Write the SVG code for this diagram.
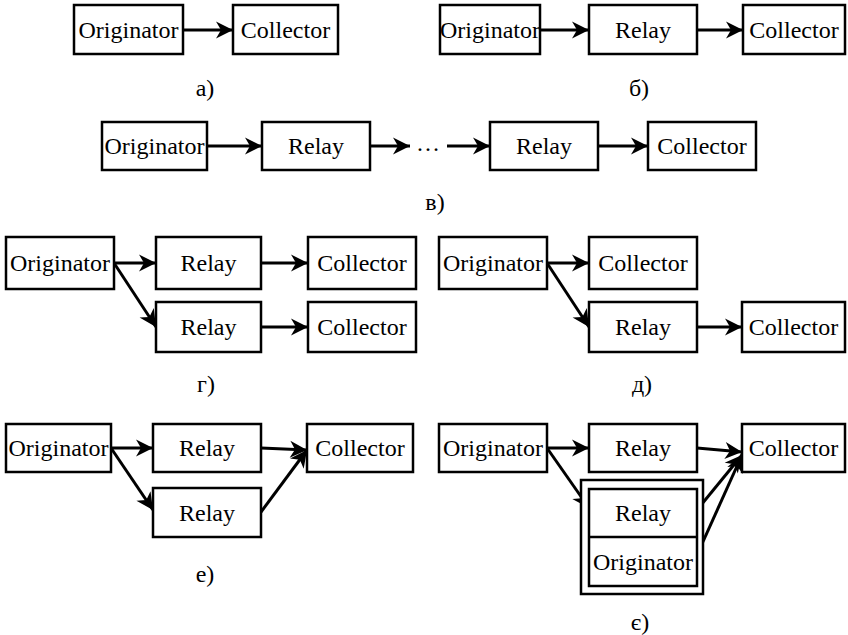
<svg xmlns="http://www.w3.org/2000/svg" width="848" height="635" viewBox="0 0 848 635">
<style>
.box{fill:#fff;stroke:#000;stroke-width:2.5}
.c{fill:none;stroke:#000;stroke-width:3;marker-end:url(#ah)}
.ln{fill:none;stroke:#000;stroke-width:2.5}
</style>
<defs>
<marker id="ah" markerUnits="userSpaceOnUse" markerWidth="20" markerHeight="20" viewBox="0 -10 20 20" refX="17" refY="0" orient="auto" overflow="visible">
<path d="M0,-8.5 L17,0 L0,8.5 L5,0 Z" fill="#000"/>
</marker>
</defs>
<rect width="848" height="635" fill="#fff"/>

<g id="connectors">
<line class="c" x1="183" y1="30" x2="233" y2="30"/>
<line class="c" x1="540" y1="30" x2="589" y2="30"/>
<line class="c" x1="697" y1="30" x2="743" y2="30"/>
<line class="c" x1="207" y1="146" x2="262" y2="146"/>
<line class="c" x1="370" y1="146" x2="410" y2="146"/>
<line class="c" x1="447" y1="146" x2="490" y2="146"/>
<line class="c" x1="598" y1="146" x2="648" y2="146"/>
<line class="c" x1="114" y1="263" x2="156" y2="263"/>
<line class="c" x1="261" y1="263" x2="308" y2="263"/>
<line class="c" x1="261" y1="327" x2="308" y2="327"/>
<line class="c" x1="114" y1="263" x2="156" y2="327"/>
<line class="c" x1="547" y1="263" x2="589" y2="263"/>
<line class="c" x1="547" y1="263" x2="589" y2="327"/>
<line class="c" x1="697" y1="327" x2="742" y2="327"/>
<line class="c" x1="111" y1="448" x2="153" y2="448"/>
<line class="c" x1="111" y1="448" x2="153" y2="510"/>
<line class="c" x1="261" y1="448" x2="307" y2="450"/>
<line class="c" x1="261" y1="512" x2="307" y2="450"/>
<line class="c" x1="547" y1="448" x2="589" y2="448"/>
<line class="c" x1="547" y1="448" x2="589" y2="508"/>
<line class="c" x1="697" y1="448" x2="742" y2="452"/>
<line class="c" x1="697" y1="510" x2="742" y2="455"/>
<line class="c" x1="697" y1="555" x2="742" y2="455"/>
</g>

<g id="a-originator"><rect class="box" x="74" y="5" width="109" height="49"/><text font-family="Liberation Serif" font-size="24" text-anchor="middle" x="128.5" y="38">Originator</text></g>
<g id="a-collector"><rect class="box" x="233" y="5" width="105" height="49"/><text font-family="Liberation Serif" font-size="24" text-anchor="middle" x="285.5" y="38">Collector</text></g>
<text font-family="Liberation Serif" font-size="24" text-anchor="middle" x="205" y="96">а)</text>

<g id="b-originator"><rect class="box" x="440" y="5" width="100" height="49"/><text font-family="Liberation Serif" font-size="24" text-anchor="middle" x="490" y="38">Originator</text></g>
<g id="b-relay"><rect class="box" x="589" y="5" width="108" height="49"/><text font-family="Liberation Serif" font-size="24" text-anchor="middle" x="643" y="38">Relay</text></g>
<g id="b-collector"><rect class="box" x="743" y="5" width="102" height="49"/><text font-family="Liberation Serif" font-size="24" text-anchor="middle" x="794" y="38">Collector</text></g>
<text font-family="Liberation Serif" font-size="24" text-anchor="middle" x="639" y="96">б)</text>

<g id="v-originator"><rect class="box" x="102" y="122" width="105" height="48"/><text font-family="Liberation Serif" font-size="24" text-anchor="middle" x="154.5" y="154">Originator</text></g>
<g id="v-relay1"><rect class="box" x="262" y="122" width="108" height="48"/><text font-family="Liberation Serif" font-size="24" text-anchor="middle" x="316" y="154">Relay</text></g>
<text font-family="Liberation Serif" font-size="24" text-anchor="middle" x="428" y="151">…</text>
<g id="v-relay2"><rect class="box" x="490" y="122" width="108" height="48"/><text font-family="Liberation Serif" font-size="24" text-anchor="middle" x="544" y="154">Relay</text></g>
<g id="v-collector"><rect class="box" x="648" y="122" width="108" height="48"/><text font-family="Liberation Serif" font-size="24" text-anchor="middle" x="702" y="154">Collector</text></g>
<text font-family="Liberation Serif" font-size="24" text-anchor="middle" x="435" y="210">в)</text>

<g id="g-originator"><rect class="box" x="6" y="237" width="108" height="52"/><text font-family="Liberation Serif" font-size="24" text-anchor="middle" x="60" y="271">Originator</text></g>
<g id="g-relay1"><rect class="box" x="156" y="237" width="105" height="52"/><text font-family="Liberation Serif" font-size="24" text-anchor="middle" x="208.5" y="271">Relay</text></g>
<g id="g-collector1"><rect class="box" x="308" y="237" width="108" height="52"/><text font-family="Liberation Serif" font-size="24" text-anchor="middle" x="362" y="271">Collector</text></g>
<g id="g-relay2"><rect class="box" x="156" y="302" width="105" height="50"/><text font-family="Liberation Serif" font-size="24" text-anchor="middle" x="208.5" y="335">Relay</text></g>
<g id="g-collector2"><rect class="box" x="308" y="302" width="108" height="50"/><text font-family="Liberation Serif" font-size="24" text-anchor="middle" x="362" y="335">Collector</text></g>
<text font-family="Liberation Serif" font-size="24" text-anchor="middle" x="206" y="392">г)</text>

<g id="d-originator"><rect class="box" x="439" y="237" width="108" height="52"/><text font-family="Liberation Serif" font-size="24" text-anchor="middle" x="493" y="271">Originator</text></g>
<g id="d-collector1"><rect class="box" x="589" y="237" width="108" height="52"/><text font-family="Liberation Serif" font-size="24" text-anchor="middle" x="643" y="271">Collector</text></g>
<g id="d-relay"><rect class="box" x="589" y="302" width="108" height="50"/><text font-family="Liberation Serif" font-size="24" text-anchor="middle" x="643" y="335">Relay</text></g>
<g id="d-collector2"><rect class="box" x="742" y="302" width="103" height="50"/><text font-family="Liberation Serif" font-size="24" text-anchor="middle" x="793.5" y="335">Collector</text></g>
<text font-family="Liberation Serif" font-size="24" text-anchor="middle" x="642" y="392">д)</text>

<g id="e-originator"><rect class="box" x="6" y="424" width="105" height="48"/><text font-family="Liberation Serif" font-size="24" text-anchor="middle" x="58.5" y="456">Originator</text></g>
<g id="e-relay1"><rect class="box" x="153" y="424" width="108" height="48"/><text font-family="Liberation Serif" font-size="24" text-anchor="middle" x="207" y="456">Relay</text></g>
<g id="e-collector"><rect class="box" x="307" y="424" width="106" height="48"/><text font-family="Liberation Serif" font-size="24" text-anchor="middle" x="360" y="456">Collector</text></g>
<g id="e-relay2"><rect class="box" x="153" y="488" width="108" height="49"/><text font-family="Liberation Serif" font-size="24" text-anchor="middle" x="207" y="521">Relay</text></g>
<text font-family="Liberation Serif" font-size="24" text-anchor="middle" x="205" y="582">е)</text>

<g id="ye-originator"><rect class="box" x="439" y="424" width="108" height="48"/><text font-family="Liberation Serif" font-size="24" text-anchor="middle" x="493" y="456">Originator</text></g>
<g id="ye-relay"><rect class="box" x="589" y="424" width="108" height="48"/><text font-family="Liberation Serif" font-size="24" text-anchor="middle" x="643" y="456">Relay</text></g>
<g id="ye-collector"><rect class="box" x="742" y="424" width="103" height="48"/><text font-family="Liberation Serif" font-size="24" text-anchor="middle" x="793.5" y="456">Collector</text></g>
<g id="ye-combined">
<rect class="box" x="581" y="480" width="122" height="114"/>
<rect class="box" x="589" y="489" width="108" height="97"/>
<line class="ln" x1="589" y1="537" x2="697" y2="537"/>
<text font-family="Liberation Serif" font-size="24" text-anchor="middle" x="643" y="521">Relay</text>
<text font-family="Liberation Serif" font-size="24" text-anchor="middle" x="643" y="570">Originator</text>
</g>
<text font-family="Liberation Serif" font-size="24" text-anchor="middle" x="640" y="630">є)</text>
</svg>
